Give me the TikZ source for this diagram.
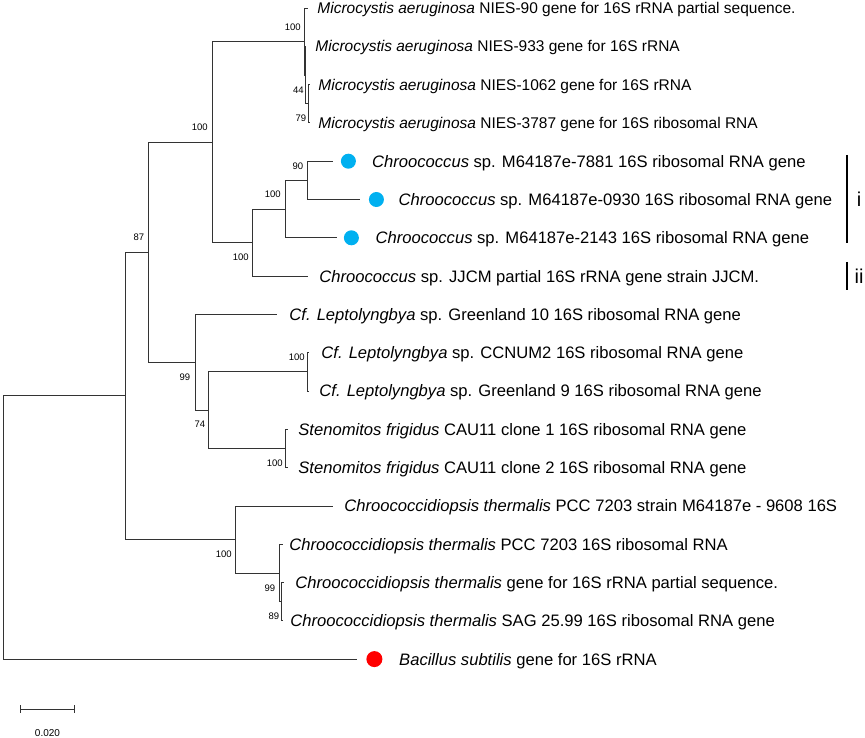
\documentclass[tikz,border=0pt]{standalone}
\usepackage{fontspec}
\setmainfont{Liberation Sans}
\usepackage{xcolor}
\usepackage{tikz}
\usetikzlibrary{positioning}
\definecolor{dotblue}{RGB}{0,176,240}
\definecolor{dotred}{RGB}{255,0,0}

\begin{document}
\begin{tikzpicture}[x=1pt,y=-1pt,line width=0.8pt,draw=black!80,
        taxon/.style={anchor=west,inner sep=0pt,text height=11.9pt,text depth=0pt,font=\fontsize{16.6}{18}\selectfont},
        mtaxon/.style={taxon,text height=11.2pt,font=\fontsize{15.5}{17}\selectfont},
        boot/.style={anchor=east,inner sep=0pt,text height=6.8pt,text depth=0pt,font=\fontsize{9.5}{11}\selectfont},
        bluedot/.style={circle,fill=dotblue,inner sep=0pt,minimum size=15pt},
        reddot/.style={circle,fill=dotred,inner sep=0pt,minimum size=16pt}]
            \useasboundingbox (0,0) rectangle (865,738);

            \coordinate (root) at (3,527.45);
            \coordinate (nA) at (125,395.8);
            \coordinate (nB) at (148,252.2);
            \coordinate (nC) at (212,142.05);
            \coordinate (nM) at (304,41.5);
            \coordinate (nX) at (305,75.0);
            \coordinate (nY) at (308,103.75);
            \coordinate (nJ) at (252,242.6);
            \coordinate (nK) at (285,209.1);
            \coordinate (nH) at (307,180.35);
            \coordinate (nL) at (195,362.3);
            \coordinate (nP) at (208,410.15);
            \coordinate (nQ) at (307,371.85);
            \coordinate (nS) at (285,448.45);
            \coordinate (nD) at (235,539.4);
            \coordinate (nR) at (279,572.9);
            \coordinate (nT) at (281,601.65);

            \coordinate (t1) at (308,8.0);
            \coordinate (t2) at (306,46.3);
            \coordinate (t3) at (310,84.6);
            \coordinate (t4) at (310,122.9);
            \coordinate (t5) at (333,161.2);
            \coordinate (t6) at (360,199.5);
            \coordinate (t7) at (337,237.8);
            \coordinate (t8) at (308,276.1);
            \coordinate (t9) at (277,314.4);
            \coordinate (t10) at (309,352.7);
            \coordinate (t11) at (309,391.0);
            \coordinate (t12) at (288,429.3);
            \coordinate (t13) at (288,467.6);
            \coordinate (t14) at (333,505.9);
            \coordinate (t15) at (283,544.2);
            \coordinate (t16) at (284,582.5);
            \coordinate (t17) at (283,620.8);
            \coordinate (t18) at (357,659.1);

            \draw (root) |- (nA);
            \draw (root) |- (t18);
            \draw (nA) |- (nB);
            \draw (nA) |- (nD);
            \draw (nB) |- (nC);
            \draw (nB) |- (nL);
            \draw (nC) |- (nM);
            \draw (nC) |- (nJ);
            \draw (nM) |- (t1);
            \draw (nM) |- (nX);
            \draw (nX) |- (t2);
            \draw (nX) |- (nY);
            \draw (nY) |- (t3);
            \draw (nY) |- (t4);
            \draw (nJ) |- (nK);
            \draw (nJ) |- (t8);
            \draw (nK) |- (nH);
            \draw (nK) |- (t7);
            \draw (nH) |- (t5);
            \draw (nH) |- (t6);
            \draw (nL) |- (t9);
            \draw (nL) |- (nP);
            \draw (nP) |- (nQ);
            \draw (nP) |- (nS);
            \draw (nQ) |- (t10);
            \draw (nQ) |- (t11);
            \draw (nS) |- (t12);
            \draw (nS) |- (t13);
            \draw (nD) |- (t14);
            \draw (nD) |- (nR);
            \draw (nR) |- (t15);
            \draw (nR) |- (nT);
            \draw (nT) |- (t16);
            \draw (nT) |- (t17);

            \node[bluedot,right=7.5pt of t5] (d5) {};
            \node[bluedot,right=8.5pt of t6] (d6) {};
            \node[bluedot,right=6.5pt of t7] (d7) {};
            \node[reddot,right=9pt of t18] (d18) {};

            \node[mtaxon] (l1) at (317,8.0) {\textit{Microcystis aeruginosa} NIES-90 gene for 16S rRNA partial sequence.};
            \node[mtaxon] (l2) at (315,46.3) {\textit{Microcystis aeruginosa} NIES-933 gene for 16S rRNA};
            \node[mtaxon] (l3) at (318,84.6) {\textit{Microcystis aeruginosa} NIES-1062 gene for 16S rRNA};
            \node[mtaxon] (l4) at (318,122.9) {\textit{Microcystis aeruginosa} NIES-3787 gene for 16S ribosomal RNA};
            \node[taxon,right=15.5pt of d5] (l5) {\textit{Chroococcus} sp. M64187e-7881 16S ribosomal RNA gene};
            \node[taxon,right=14pt of d6] (l6) {\textit{Chroococcus} sp. M64187e-0930 16S ribosomal RNA gene};
            \node[taxon,right=16pt of d7] (l7) {\textit{Chroococcus} sp. M64187e-2143 16S ribosomal RNA gene};
            \node[taxon] (l8) at (319,276.1) {\textit{Chroococcus} sp. JJCM partial 16S rRNA gene strain JJCM.};
            \node[taxon] (l9) at (289,314.4) {\textit{Cf. Leptolyngbya} sp. Greenland 10 16S ribosomal RNA gene};
            \node[taxon] (l10) at (321,352.7) {\textit{Cf. Leptolyngbya} sp. CCNUM2 16S ribosomal RNA gene};
            \node[taxon] (l11) at (319,391.0) {\textit{Cf. Leptolyngbya} sp. Greenland 9 16S ribosomal RNA gene};
            \node[taxon] (l12) at (298,429.3) {\textit{Stenomitos frigidus} CAU11 clone 1 16S ribosomal RNA gene};
            \node[taxon] (l13) at (298,467.6) {\textit{Stenomitos frigidus} CAU11 clone 2 16S ribosomal RNA gene};
            \node[taxon] (l14) at (344,505.9) {\textit{Chroococcidiopsis thermalis} PCC 7203 strain M64187e - 9608 16S};
            \node[taxon] (l15) at (289,544.2) {\textit{Chroococcidiopsis thermalis} PCC 7203 16S ribosomal RNA};
            \node[taxon] (l16) at (295,582.5) {\textit{Chroococcidiopsis thermalis} gene for 16S rRNA partial sequence.};
            \node[taxon] (l17) at (290,620.8) {\textit{Chroococcidiopsis thermalis} SAG 25.99 16S ribosomal RNA gene};
            \node[taxon,right=16pt of d18] (l18) {\textit{Bacillus subtilis} gene for 16S rRNA};

            \node[boot] (bM) at (301,27) {100};
            \node[boot] (bX) at (304,90) {44};
            \node[boot] (bY) at (306.5,118.5) {79};
            \node[boot] (bC) at (208,127.5) {100};
            \node[boot] (bB) at (144.5,237.5) {87};
            \node[boot] (bJ) at (249,257) {100};
            \node[boot] (bK) at (281,194.5) {100};
            \node[boot] (bH) at (303.5,166) {90};
            \node[boot] (bL) at (190.5,377) {99};
            \node[boot] (bP) at (205.5,424.5) {74};
            \node[boot] (bQ) at (305,357.5) {100};
            \node[boot] (bS) at (283,463) {100};
            \node[boot] (bD) at (232,554) {100};
            \node[boot] (bR) at (275.5,588) {99};
            \node[boot] (bT) at (279.5,616.5) {89};

            \coordinate (gi1) at (847,155);
            \coordinate (gi2) at (847,243);
            \coordinate (gii1) at (847,262);
            \coordinate (gii2) at (847,290);
            \draw[line width=2.4pt,draw=black] (gi1) -- (gi2);
            \draw[line width=2.4pt,draw=black] (gii1) -- (gii2);
            \node[font=\fontsize{20}{22}\selectfont,inner sep=0pt] (gi) at (859,199) {i};
            \node[font=\fontsize{20}{22}\selectfont,inner sep=0pt] (gii) at (859,276) {ii};

            \coordinate (s1) at (20,709);
            \coordinate (s2) at (75,709);
            \draw[|-|] (s1) -- (s2);
            \node[font=\fontsize{10}{12}\selectfont,inner sep=0pt] (sl) at (47.5,733) {0.020};
        \end{tikzpicture}
\end{document}
